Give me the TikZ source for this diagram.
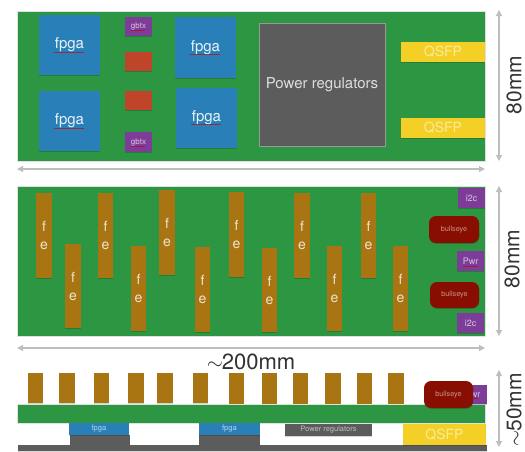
\documentclass[tikz,border=0pt]{standalone}
\usepackage{fontspec}
\setmainfont{TeX Gyre Heros}
\usetikzlibrary{arrows.meta,calc}
\definecolor{pcb}{RGB}{44,150,66}
\definecolor{chipblue}{RGB}{41,128,185}
\definecolor{chippurple}{RGB}{125,60,152}
\definecolor{chipred}{RGB}{192,68,42}
\definecolor{fegold}{RGB}{168,117,18}
\definecolor{reggray}{RGB}{92,92,92}
\definecolor{qsfpyellow}{RGB}{244,208,38}
\definecolor{bullred}{RGB}{135,14,0}
\definecolor{arrowgray}{RGB}{190,190,190}
\definecolor{labeldark}{RGB}{50,50,50}
\tikzset{
  part/.style={inner sep=0pt,outer sep=0pt,text=white,align=center,font=\fontsize{15}{15}\selectfont},
  board/.style={part,fill=pcb,draw=black!12,line width=.5pt},
  fpgachip/.style={part,fill=chipblue,text=white!90!chipblue},
  gbtxchip/.style={part,fill=chippurple,text=white!70!chippurple,font=\fontsize{8}{8}\selectfont},
  smallchip/.style={part,fill=chippurple,text=white!70!chippurple,font=\fontsize{9}{9}\selectfont},
  redchip/.style={part,fill=chipred},
  regchip/.style={part,fill=reggray,draw=black!40,line width=.4pt,text=white!80!reggray},
  qsfpchip/.style={part,fill=qsfpyellow,text=white!55!qsfpyellow,font=\fontsize{14}{14}\selectfont},
  fechip/.style={part,fill=fegold,text=white!80!fegold,font=\fontsize{14}{18}\selectfont},
  bullchip/.style={part,fill=bullred,rounded corners=7pt,text=white!55!bullred,font=\fontsize{7.3}{8}\selectfont},
  smallfpga/.style={part,fill=chipblue,text=white!65!chipblue,font=\fontsize{7.6}{8}\selectfont},
  smallreg/.style={part,fill=reggray,text=white!60!reggray,font=\fontsize{7.5}{8}\selectfont},
  greypart/.style={part,fill=reggray},
  dim/.style={draw=arrowgray,line width=1.1pt,{Triangle[width=6pt,length=6pt]}-{Triangle[width=6pt,length=6pt]}},
  dimtext/.style={text=labeldark,inner sep=0pt,font=\fontsize{21}{21}\selectfont},
  squiggle/.style={draw=red!80!black,line width=.4pt,opacity=.65},
}
% name, style, x1, y1, x2, y2, text
\newcommand{\Comp}[7]{%
  \pgfmathsetmacro{\cw}{#5-#3}\pgfmathsetmacro{\ch}{#6-#4}%
  \node[#2,minimum width=\cw pt,minimum height=\ch pt,fill=black,draw=none,opacity=.16] (#1s) at ({(#3+#5)/2+.3},{(#4+#6)/2+.9}) {};
  \node[#2,minimum width=\cw pt,minimum height=\ch pt] (#1) at ({(#3+#5)/2},{(#4+#6)/2}) {#7};
}
\newcommand{\Squig}[3]{\draw[squiggle] (#1,#3) -- (#2,#3);}
\begin{document}
\begin{tikzpicture}[x=1pt,y=-1pt]
\useasboundingbox (0,0) rectangle (525,451);
% ---------- top board
\Comp{b1}{board}{17}{11}{485}{161}{}
\Comp{f1}{fpgachip}{39}{15}{100}{75}{fpga}
\Comp{f2}{fpgachip}{175}{17}{236}{78}{fpga}
\Comp{f3}{fpgachip}{39}{91}{100}{151}{fpga}
\Comp{f4}{fpgachip}{176}{88}{237}{148}{fpga}
\Comp{g1}{gbtxchip}{125}{17}{152}{36}{gbtx}
\Comp{g2}{gbtxchip}{125}{132}{152}{152}{gbtx}
\Comp{r1}{redchip}{125}{52}{152}{71}{}
\Comp{r2}{redchip}{125}{91}{152}{110}{}
\Comp{pr}{regchip}{259}{23}{385}{146}{Power regulators}
\Comp{q1}{qsfpchip}{401}{42}{485}{62}{QSFP}
\Comp{q2}{qsfpchip}{401}{118}{485}{138}{QSFP}
\Squig{54}{84}{52.5}\Squig{190}{220}{54.5}\Squig{54}{84}{128.5}\Squig{191}{221}{124.5}
\Squig{131}{145}{30}\Squig{131}{145}{146}
\coordinate (h1l) at (17,169); \coordinate (h1r) at (485,169);
\draw[dim] (h1l) -- (h1r);
\coordinate (v1t) at (499,10); \coordinate (v1b) at (499,161);
\draw[dim] (v1t) -- (v1b);
\node[dimtext,rotate=90] (l80a) at (514,85) {80mm};
% ---------- middle board
\Comp{b2}{board}{17}{186}{485}{336}{}
\Comp{fe1}{fechip}{36}{193}{52}{278}{f\\e}
\Comp{fe2}{fechip}{65}{244}{81}{328}{f\\e}
\Comp{fe3}{fechip}{98}{193}{113}{278}{f\\e}
\Comp{fe4}{fechip}{131}{246}{146}{331}{f\\e}
\Comp{fe5}{fechip}{159}{190}{175}{275}{f\\e}
\Comp{fe6}{fechip}{195}{247}{210}{332}{f\\e}
\Comp{fe7}{fechip}{229}{192}{244}{277}{f\\e}
\Comp{fe8}{fechip}{262}{248}{277}{332}{f\\e}
\Comp{fe9}{fechip}{294}{193}{310}{278}{f\\e}
\Comp{fe10}{fechip}{327}{246}{342}{331}{f\\e}
\Comp{fe11}{fechip}{361}{193}{376}{278}{f\\e}
\Comp{fe12}{fechip}{393}{246}{408}{331}{f\\e}
\Comp{i1}{smallchip}{458}{188}{485}{208}{i2c}
\Comp{be1}{bullchip}{429}{216}{479}{243}{bullseye}
\Comp{pw}{smallchip}{457}{251}{484}{271}{Pwr}
\Comp{be2}{bullchip}{430}{282}{479}{308}{bullseye}
\Comp{i2}{smallchip}{457}{313}{484}{333}{i2c}
\Squig{463}{478}{266}
\coordinate (v2t) at (499,186); \coordinate (v2b) at (499,336);
\draw[dim] (v2t) -- (v2b);
\node[dimtext,rotate=90] (l80b) at (512,259) {80mm};
\coordinate (h2l) at (17,348); \coordinate (h2r) at (485,348);
\draw[dim] (h2l) -- (h2r);
\node[dimtext,font=\fontsize{22}{22}\selectfont] (l200) at (251,362) {$\sim$\hspace{-1pt}200mm};
% ---------- side view
\Comp{s1}{fechip}{28}{373}{43}{403}{}
\Comp{s2}{fechip}{59}{373}{75}{403}{}
\Comp{s3}{fechip}{94}{373}{109}{403}{}
\Comp{s4}{fechip}{128}{373}{144}{403}{}
\Comp{s5}{fechip}{157}{373}{173}{403}{}
\Comp{s6}{fechip}{193}{373}{208}{403}{}
\Comp{s7}{fechip}{229}{373}{244}{405}{}
\Comp{s8}{fechip}{262}{373}{277}{404}{}
\Comp{s9}{fechip}{293}{373}{308}{404}{}
\Comp{s10}{fechip}{325}{373}{341}{404}{}
\Comp{s11}{fechip}{357}{373}{372}{404}{}
\Comp{s12}{fechip}{388}{373}{404}{404}{}
\Comp{b3}{board}{17}{404}{485}{423}{}
\Comp{gb1}{greypart}{70}{435}{130}{447}{}
\Comp{gb2}{greypart}{199}{435}{260}{447}{}
\Comp{base}{greypart}{18}{445}{487}{451}{}
\Comp{sf1}{smallfpga}{69}{423}{129}{435}{fpga}
\Comp{sf2}{smallfpga}{199}{423}{260}{435}{fpga}
\Comp{sr}{smallreg}{285}{424}{372}{436}{Power regulators}
\Comp{sq}{qsfpchip}{403}{424}{486}{445}{QSFP}
\Comp{spw}{smallchip}{458}{385}{487}{404}{Pwr}
\Comp{sbe}{bullchip}{424}{381}{473}{408}{bullseye}
\Squig{473.5}{478}{398.5}
\coordinate (v3t) at (499,370); \coordinate (v3b) at (499,447);
\draw[dim] (v3t) -- (v3b);
\node[dimtext,rotate=90] (l50) at (514,410) {$\sim$\hspace{-1pt}50mm};
\end{tikzpicture}
\end{document}
